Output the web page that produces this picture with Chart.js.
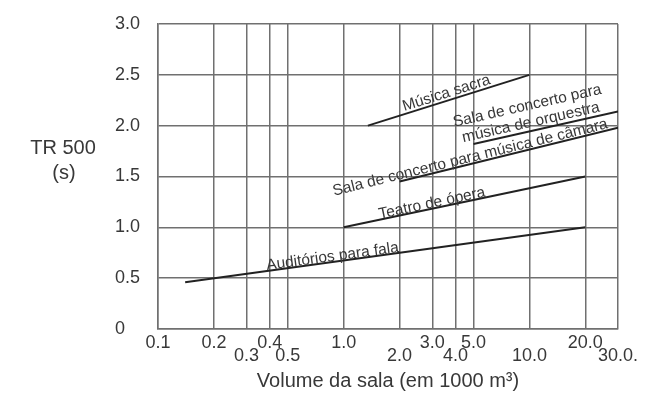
<!DOCTYPE html>
<html lang="pt">
<head>
    <meta charset="UTF-8">
    <title>TR 500 x Volume da sala</title>
    <style>
        body {
            margin: 0;
            background-color: #fff;
        }
        #chart-box {
            width: 646px;
            height: 396px;
        }
    </style>
</head>
<body>
    <div id="chart-box">
        <canvas id="tr-chart" width="646" height="396"></canvas>
    </div>

    <script src="https://cdn.jsdelivr.net/npm/chart.js"></script>

    <script>
        // eixo x (log) e eixo y
        const xTicks = [0.1, 0.2, 0.3, 0.4, 0.5, 1, 2, 3, 4, 5, 10, 20, 30];
        const xTickLabels = ['0.1', '0.2', '0.3', '0.4', '0.5', '1.0', '2.0', '3.0', '4.0', '5.0', '10.0', '20.0', '30.0.'];
        const xTickLower = [false, false, true, false, true, false, true, false, true, false, true, false, true];
        const yTickLabels = ['0', '0.5', '1.0', '1.5', '2.0', '2.5', '3.0'];

        // curvas: volume (1000 m3) e TR 500 (s) nas extremidades
        const seriesNames = [
            ['Música sacra'],
            ['Sala de concerto para', 'música de orquestra'],
            ['Sala de concerto para música de câmara'],
            ['Teatro de ópera'],
            ['Auditórios para fala']
        ];
        const seriesVolume = [[1.35, 10], [5, 30], [2, 30], [1, 20], [0.14, 20]];
        const seriesTR = [[2.0, 2.5], [1.82, 2.14], [1.45, 1.98], [1.0, 1.5], [0.46, 1.0]];

        // onde cada texto fica ao longo da sua linha
        const labelPlace = [
            { t: 0.5, dy: -3 },
            { t: 0.41, dy: -4 },
            { t: 0.33, dy: -2 },
            { t: 0.37, dy: -1 },
            { t: 0.37, dy: -1 }
        ];

        const inkColor = '#383838';
        const gridColor = '#707070';
        const fontFamily = '"Liberation Sans", Arial, sans-serif';

        const datasets = seriesNames.map((name, i) => ({
            label: name.join(' '),
            data: seriesVolume[i].map((v, k) => ({ x: v, y: seriesTR[i][k] })),
            showLine: true,
            borderColor: '#222',
            borderWidth: 2,
            pointRadius: 0
        }));

        const lineLabels = {
            id: 'lineLabels',
            afterDatasetsDraw(chart) {
                const ctx = chart.ctx;
                const xs = chart.scales.x;
                const ys = chart.scales.y;
                ctx.save();
                ctx.fillStyle = inkColor;
                ctx.font = '15.5px ' + fontFamily;
                ctx.textAlign = 'center';
                ctx.textBaseline = 'alphabetic';
                seriesNames.forEach((lines, i) => {
                    const x0 = xs.getPixelForValue(seriesVolume[i][0]);
                    const y0 = ys.getPixelForValue(seriesTR[i][0]);
                    const x1 = xs.getPixelForValue(seriesVolume[i][1]);
                    const y1 = ys.getPixelForValue(seriesTR[i][1]);
                    const p = labelPlace[i];
                    ctx.save();
                    ctx.translate(x0 + (x1 - x0) * p.t, y0 + (y1 - y0) * p.t);
                    ctx.rotate(Math.atan2(y1 - y0, x1 - x0));
                    lines.forEach((txt, j) => {
                        ctx.fillText(txt, 0, p.dy - (lines.length - 1 - j) * 17);
                    });
                    ctx.restore();
                });

                // titulo do eixo y, na horizontal
                const area = chart.chartArea;
                ctx.font = '20px ' + fontFamily;
                ctx.textBaseline = 'middle';
                ctx.fillText('TR 500', area.left - 95, area.top + 124);
                ctx.fillText('(s)', area.left - 94, area.top + 149);
                ctx.restore();
            }
        };

        new Chart(document.getElementById('tr-chart'), {
            type: 'scatter',
            data: { datasets: datasets },
            options: {
                responsive: false,
                animation: false,
                layout: { padding: { left: 115, top: 24, right: 28, bottom: 0 } },
                plugins: {
                    legend: { display: false },
                    tooltip: { enabled: false }
                },
                scales: {
                    x: {
                        type: 'logarithmic',
                        min: 0.1,
                        max: 30,
                        afterBuildTicks: (scale) => {
                            scale.ticks = xTicks.map(v => ({ value: v }));
                        },
                        afterFit: (scale) => {
                            scale.height = 67;
                        },
                        grid: { color: gridColor, lineWidth: 1.5, drawTicks: false },
                        border: { color: gridColor, width: 1.5 },
                        ticks: {
                            autoSkip: false,
                            maxRotation: 0,
                            padding: 7,
                            color: inkColor,
                            font: { family: fontFamily, size: 18, lineHeight: 0.74 },
                            callback: (value, index) => xTickLower[index] ? ['', xTickLabels[index]] : xTickLabels[index]
                        },
                        title: {
                            display: true,
                            text: 'Volume da sala (em 1000 m³)',
                            color: inkColor,
                            font: { family: fontFamily, size: 20 },
                            padding: { top: 0, bottom: 3 }
                        }
                    },
                    y: {
                        min: 0,
                        max: 3,
                        afterFit: (scale) => {
                            scale.width = 43;
                        },
                        grid: { color: gridColor, lineWidth: 1.5, drawTicks: false },
                        border: { color: gridColor, width: 1.5 },
                        ticks: {
                            stepSize: 0.5,
                            crossAlign: 'far',
                            color: inkColor,
                            font: { family: fontFamily, size: 18 },
                            callback: (value, index) => yTickLabels[index]
                        }
                    }
                }
            },
            plugins: [lineLabels]
        });
    </script>
</body>
</html>
